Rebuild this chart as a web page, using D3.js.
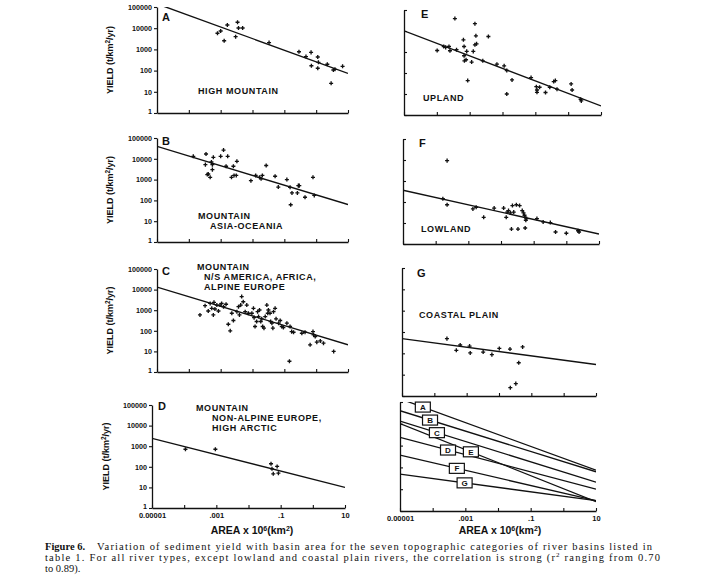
<!DOCTYPE html>
<html><head><meta charset="utf-8">
<script src="https://cdn.jsdelivr.net/npm/d3@7"></script>
<style>
body{margin:0;background:#fff}
svg{display:block}
text{font-family:"Liberation Sans",Arial,sans-serif;fill:#111}
</style>
</head><body>
<svg id="c" width="720" height="580"></svg>
<script>
// ---------------- DATA ----------------
const categories = ["A","B","C","D","E","F","G"];
const areaTicks = [0.00001,0.0001,0.001,0.01,0.1,1,10];
const areaTickLabels = ["0.00001","",".001","",".1","","10"];
const yieldTicks = [1,10,100,1000,10000,100000];
const yieldTicksG = [0.1,1,10,100,1000,10000,100000];
const yieldTickLabels = ["1","10","100","1000","10000","100000"];
// regression lines: yield at area 0.00001 and at area 10
const lineYieldAtMin = [141000, 39800, 13200, 2400, 10200, 363, 49];
const lineYieldAtMax = [74, 63, 21, 10, 2.7, 3.0, 3.0];
// summary-panel label anchors (area where each boxed label sits on its line)
const summaryLabelArea = [0.000050, 0.000083, 0.000135, 0.000295, 0.00148, 0.00055, 0.00095];

// basin points: log10(area, 10^6 km2) and log10(yield, t/km2/yr)
const logAreaA = [-3.10,-3.00,-2.89,-2.79,-2.47,-2.44,-2.31,-2.53,-1.48,-0.54,-0.32,-0.16,0.05,-0.15,0.05,0.07,0.35,0.54,0.59,0.83,0.47];
const logYieldA = [3.76,3.87,3.41,4.15,4.28,4.01,4.01,3.60,3.32,2.89,2.66,2.86,2.64,2.23,2.11,2.39,2.30,2.03,2.06,2.20,1.40];

const logAreaB = [-3.86,-3.46,-3.48,-3.29,-3.39,-3.42,-3.33,-3.26,-3.26,-3.23,-3.00,-2.91,-2.78,-2.83,-2.60,-2.66,-2.58,-2.49,-2.51,-2.05,-1.90,-1.78,-1.73,-1.69,-1.57,-1.29,-1.19,-0.92,-0.82,-0.80,-0.76,-0.56,-0.53,-0.59,-0.35,-0.10,-0.06];
const logYieldB = [4.12,4.23,3.72,3.85,3.27,3.24,3.11,3.72,3.48,4.07,4.12,4.42,4.12,3.64,3.64,3.11,3.20,3.88,3.20,2.95,3.20,3.11,3.04,3.20,3.68,3.16,2.64,3.00,2.63,1.79,2.36,2.71,2.71,2.36,2.15,3.11,2.24];

const logAreaC = [-3.65,-3.49,-3.39,-3.33,-3.28,-3.21,-3.23,-3.18,-3.12,-3.07,
  -3.02,-2.97,-2.91,-2.83,-2.76,-2.70,-2.65,-2.60,-2.49,-2.44,
  -2.41,-2.37,-2.34,-2.29,-2.23,-2.18,-2.13,-2.02,-1.97,-1.95,
  -1.92,-1.87,-1.84,-1.81,-1.78,-1.74,-1.71,-1.68,-1.64,-1.60,
  -1.55,-1.52,-1.50,-1.45,-1.43,-1.39,-1.36,-1.34,-1.29,-1.26,
  -1.18,-1.13,-1.08,-1.03,-0.92,-0.82,-0.77,-0.71,-0.45,-0.35,
  -0.19,-0.10,-0.08,-0.03,0.02,0.13,0.23,0.55,-0.84];
const logYieldC = [2.77,3.22,2.96,3.33,3.09,3.38,2.77,3.06,3.25,2.96,
  3.25,3.33,3.17,3.29,2.32,2.00,2.85,2.50,2.93,3.17,
  2.77,3.25,3.66,3.41,2.93,3.25,2.85,2.85,3.09,2.64,
  2.21,2.45,2.93,2.69,3.01,2.45,2.58,2.21,2.13,2.69,
  3.25,2.85,3.01,2.85,2.45,2.37,2.13,2.93,3.09,2.58,
  2.37,2.50,2.21,2.16,2.37,2.21,1.96,1.93,1.88,1.93,
  1.32,1.96,1.80,1.72,1.45,1.51,1.40,1.00,0.52];

const logAreaD = [-3.96,-3.03,-1.30,-1.27,-1.23,-1.11,-1.07];
const logYieldD = [2.85,2.85,2.15,1.90,1.66,2.02,1.69];

const logAreaE = [-3.99,-3.79,-3.73,-3.63,-3.60,-3.45,-3.40,-3.19,-3.17,-3.17,
  -3.16,-3.11,-3.09,-3.06,-2.94,-2.89,-2.84,-2.84,-2.81,-2.79,
  -2.60,-2.43,-2.17,-1.95,-1.87,-1.87,-1.71,-1.13,-0.97,-0.95,
  -0.95,-0.87,-0.69,-0.56,-0.44,-0.39,-0.34,0.09,0.12,0.38,0.40];
const logYieldE = [3.07,3.26,3.22,3.26,3.06,4.59,3.11,3.58,3.26,2.82,
  2.58,2.63,3.03,1.64,2.52,3.03,4.35,3.34,3.77,3.39,
  2.58,3.74,2.42,2.34,1.00,2.12,1.67,1.78,1.35,1.19,
  1.08,1.32,1.07,1.32,1.59,1.64,1.23,1.48,1.19,0.75,0.67];

const logAreaF = [-3.65,-3.78,-3.65,-2.86,-2.76,-2.53,-2.21,-1.92,-1.84,-1.81,
  -1.77,-1.71,-1.68,-1.65,-1.61,-1.53,-1.48,-1.43,-1.35,-1.31,
  -1.28,-1.26,-1.24,-1.22,-1.26,-0.90,-0.71,-0.49,-0.33,0.00,0.36,0.39];
const logYieldF = [3.97,2.16,1.87,1.67,1.75,1.27,1.71,1.71,1.27,1.52,
  1.59,1.48,0.71,1.83,1.52,1.87,0.71,1.83,1.59,1.48,
  1.37,1.27,1.13,1.21,0.76,1.21,1.05,1.02,0.57,0.51,0.63,0.57];

const logAreaG = [-3.61,-3.32,-3.20,-2.91,-2.89,-2.49,-2.22,-1.99,-1.66,-1.39,-1.27,-1.65,-1.48];
const logYieldG = [1.69,1.14,1.39,1.34,1.02,1.06,0.94,1.23,1.20,0.56,1.30,-0.61,-0.42];

const pointsByCat = {
  A:[logAreaA,logYieldA], B:[logAreaB,logYieldB], C:[logAreaC,logYieldC], D:[logAreaD,logYieldD],
  E:[logAreaE,logYieldE], F:[logAreaF,logYieldF], G:[logAreaG,logYieldG]
};

// ---------------- LAYOUT ----------------
const panels = [
  {key:"A", x0:157,x1:348,yb:113,yt:7,  left:true,  yl:113, letter:[162,21],
   titles:[["HIGH MOUNTAIN",198,94]]},
  {key:"B", x0:157,x1:348,yb:242,yt:138,left:true,  yl:113, letter:[162,145],
   titles:[["MOUNTAIN",198,219],["ASIA-OCEANIA",210,229]]},
  {key:"C", x0:157,x1:348,yb:372,yt:269,left:true,  yl:113, letter:[162,275],
   titles:[["MOUNTAIN",197,270],["N/S AMERICA, AFRICA,",204,280],["ALPINE EUROPE",204,290]]},
  {key:"D", x0:152,x1:345,yb:508,yt:405,left:true,  yl:109, letter:[158,410], xlabels:true,
   titles:[["MOUNTAIN",196,411],["NON-ALPINE EUROPE,",212,421],["HIGH ARCTIC",212,431]]},
  {key:"E", x0:404,x1:601,yb:115,yt:10, left:false, letter:[421,18],
   titles:[["UPLAND",423,101]]},
  {key:"F", x0:403,x1:599,yb:244,yt:139,left:false, letter:[419,147],
   titles:[["LOWLAND",421,232]]},
  {key:"G", x0:402,x1:596,yb:396,yt:268,left:false, letter:[417,277], ymin:0.1,
   titles:[["COASTAL PLAIN",419,318]]}
];
const summary = {x0:400,x1:596,yb:511,yt:402};

const svg = d3.select("#c");
const defs = svg.append("defs");

function lineData(i){
  return [[0.00001, lineYieldAtMin[i]],[10, lineYieldAtMax[i]]];
}

function styleAxis(g){
  g.selectAll("path.domain").attr("stroke","#111").attr("stroke-width",1.3);
  g.selectAll(".tick line").attr("stroke","#111").attr("stroke-width",1.1);
  g.attr("font-family","Liberation Sans, Arial, sans-serif").attr("font-weight","bold");
  g.selectAll(".tick text").attr("fill","#111");
}

function drawAxes(p, x, y){
  const yTicks = p.ymin ? yieldTicksG : yieldTicks;
  const ya = d3.axisLeft(y).tickValues(yTicks).tickSizeOuter(0);
  if (p.left) ya.tickSizeInner(3).tickPadding(2).tickFormat((d,i)=>yieldTickLabels[i]);
  else ya.tickSizeInner(-3).tickFormat("");
  const gy = svg.append("g").attr("transform",`translate(${p.x0},0)`).call(ya)
    .attr("font-size",7.2);
  styleAxis(gy);
  // lift the lowest label a touch so it clears the area labels below
  if (p.left) gy.selectAll(".tick text").filter(d=>d===1).attr("dy","0.05em");
  const xa = d3.axisBottom(x).tickValues(areaTicks).tickSizeInner(-3).tickSizeOuter(0).tickPadding(5)
    .tickFormat((d,i)=> p.xlabels ? areaTickLabels[i] : "");
  const gx = svg.append("g").attr("transform",`translate(0,${p.yb})`).call(xa)
    .attr("font-size",7.5);
  styleAxis(gx);
}

function clipFor(id, p){
  defs.append("clipPath").attr("id",id).append("rect")
    .attr("x",p.x0).attr("y",p.yt).attr("width",p.x1-p.x0).attr("height",p.yb-p.yt);
  return `url(#${id})`;
}

function areaLabel(cx, baseline){
  const t = svg.append("text").attr("x",cx).attr("y",baseline).attr("text-anchor","middle")
    .attr("font-size",10.5).attr("font-weight","bold");
  t.append("tspan").text("AREA x 10");
  t.append("tspan").attr("font-size",7).attr("dy",-3.5).text("6");
  t.append("tspan").attr("dy",3.5).text("(km");
  t.append("tspan").attr("font-size",7).attr("dy",-3.5).text("2");
  t.append("tspan").attr("dy",3.5).text(")");
}

const sym = d3.symbol().type(d3.symbolCross).size(9);

panels.forEach(p=>{
  const i = categories.indexOf(p.key);
  const x = d3.scaleLog().domain([0.00001,10]).range([p.x0,p.x1]);
  const y = d3.scaleLog().domain([p.ymin||1,100000]).range([p.yb,p.yt]);
  drawAxes(p,x,y);
  const clip = clipFor("clip"+p.key, p);
  svg.append("path").datum(lineData(i)).attr("clip-path",clip)
    .attr("d", d3.line().x(d=>x(d[0])).y(d=>y(d[1])))
    .attr("fill","none").attr("stroke","#111").attr("stroke-width",1.4);
  const [la, ly] = pointsByCat[p.key];
  svg.append("g").selectAll("path").data(la.map((a,k)=>[Math.pow(10,a),Math.pow(10,ly[k])]))
    .join("path").attr("d",sym)
    .attr("transform",d=>`translate(${x(d[0])},${y(d[1])})`).attr("fill","#111");
  svg.append("text").attr("x",p.letter[0]).attr("y",p.letter[1])
    .attr("font-size",11).attr("font-weight","bold").text(p.key);
  p.titles.forEach(t=>{
    svg.append("text").attr("x",t[1]).attr("y",t[2]).attr("font-size",9)
      .attr("font-weight","bold").attr("letter-spacing",0.6).text(t[0]);
  });
  if (p.left){
    const cy = (p.yb+p.yt)/2;
    const t = svg.append("text").attr("transform",`translate(${p.yl},${cy}) rotate(-90)`)
      .attr("text-anchor","middle").attr("font-size",9).attr("font-weight","bold");
    t.append("tspan").text("YIELD (t/km");
    t.append("tspan").attr("font-size",6.5).attr("dy",-3.5).text("2");
    t.append("tspan").attr("dy",3.5).text("/yr)");
  }
});
areaLabel(252, 534);

// ---- summary panel ----
(function(){
  const p = summary;
  const x = d3.scaleLog().domain([0.00001,10]).range([p.x0,p.x1]);
  const y = d3.scaleLog().domain([1,100000]).range([p.yb,p.yt]);
  drawAxes(Object.assign({left:false,xlabels:true},p),x,y);
  const clip = clipFor("clipH",p);
  categories.forEach((c,i)=>{
    svg.append("path").datum(lineData(i)).attr("clip-path",clip)
      .attr("d", d3.line().x(d=>x(d[0])).y(d=>y(d[1])))
      .attr("fill","none").attr("stroke","#111").attr("stroke-width",1.3);
  });
  categories.forEach((c,i)=>{
    const a = summaryLabelArea[i];
    const f = (Math.log10(a)+5)/6;
    const ly = Math.log10(lineYieldAtMin[i]) + f*(Math.log10(lineYieldAtMax[i])-Math.log10(lineYieldAtMin[i]));
    const cx = x(a), cy = y(Math.pow(10,ly));
    svg.append("rect").attr("x",cx-7.5).attr("y",cy-5).attr("width",15).attr("height",10)
      .attr("fill","#fff").attr("stroke","#111").attr("stroke-width",1.2);
    svg.append("text").attr("x",cx).attr("y",cy+3).attr("text-anchor","middle")
      .attr("font-size",8).attr("font-weight","bold").text(c);
  });
  areaLabel(500, 534);
})();

// ---- caption ----
const cap = svg.append("g");
cap.append("text").attr("x",45).attr("y",550).attr("font-size",10.5).attr("font-weight","bold")
  .style("font-family","Liberation Serif, serif").text("Figure 6.");
cap.append("text").attr("x",97).attr("y",550).attr("font-size",10.5)
  .style("font-family","Liberation Serif, serif")
  .attr("textLength",555).attr("lengthAdjust","spacing")
  .text("Variation of sediment yield with basin area for the seven topographic categories of river basins listed in");
const l2 = cap.append("text").attr("x",45).attr("y",561).attr("font-size",10.5)
  .style("font-family","Liberation Serif, serif").attr("textLength",615).attr("lengthAdjust","spacing");
l2.append("tspan").text("table 1. For all river types, except lowland and coastal plain rivers, the correlation is strong (r");
l2.append("tspan").attr("font-size",7).attr("dy",-4).text("2");
l2.append("tspan").attr("dy",4).text(" ranging from 0.70");
cap.append("text").attr("x",45).attr("y",572).attr("font-size",10.5)
  .style("font-family","Liberation Serif, serif").text("to 0.89).");
</script>
</body></html>
